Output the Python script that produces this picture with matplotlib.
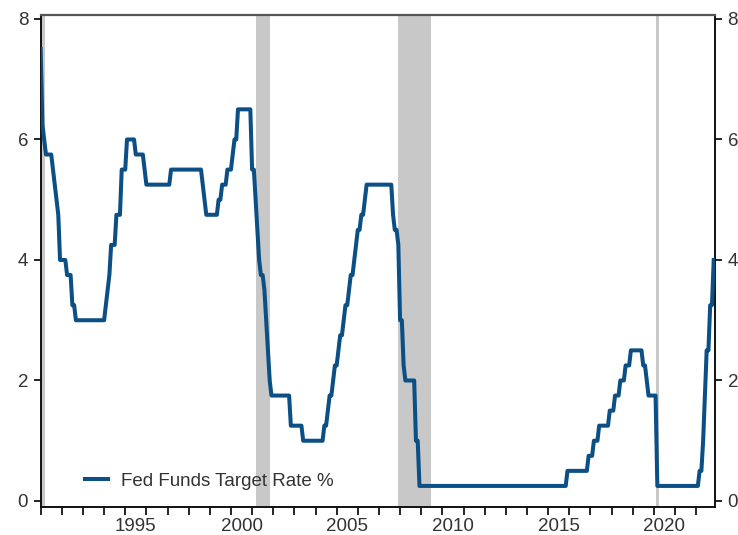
import numpy as np
import matplotlib
matplotlib.use("Agg")
import matplotlib.pyplot as plt
from matplotlib.ticker import FixedLocator, NullFormatter, FixedFormatter

plt.rcParams['font.family'] = ['Liberation Sans', 'DejaVu Sans']

# Monthly Fed Funds target rate (upper bound), Jan..Dec per year
rates = {
    1991: [7.5, 6.25, 6.0, 5.75, 5.75, 5.75, 5.75, 5.5, 5.25, 5.0, 4.75, 4.0],
    1992: [4.0, 4.0, 4.0, 3.75, 3.75, 3.75, 3.25, 3.25, 3.0, 3.0, 3.0, 3.0],
    1993: [3.0, 3.0, 3.0, 3.0, 3.0, 3.0, 3.0, 3.0, 3.0, 3.0, 3.0, 3.0],
    1994: [3.0, 3.25, 3.5, 3.75, 4.25, 4.25, 4.25, 4.75, 4.75, 4.75, 5.5, 5.5],
    1995: [5.5, 6.0, 6.0, 6.0, 6.0, 6.0, 5.75, 5.75, 5.75, 5.75, 5.75, 5.5],
    1996: [5.25, 5.25, 5.25, 5.25, 5.25, 5.25, 5.25, 5.25, 5.25, 5.25, 5.25, 5.25],
    1997: [5.25, 5.25, 5.5, 5.5, 5.5, 5.5, 5.5, 5.5, 5.5, 5.5, 5.5, 5.5],
    1998: [5.5, 5.5, 5.5, 5.5, 5.5, 5.5, 5.5, 5.5, 5.25, 5.0, 4.75, 4.75],
    1999: [4.75, 4.75, 4.75, 4.75, 4.75, 5.0, 5.0, 5.25, 5.25, 5.25, 5.5, 5.5],
    2000: [5.5, 5.75, 6.0, 6.0, 6.5, 6.5, 6.5, 6.5, 6.5, 6.5, 6.5, 6.5],
    2001: [5.5, 5.5, 5.0, 4.5, 4.0, 3.75, 3.75, 3.5, 3.0, 2.5, 2.0, 1.75],
    2002: [1.75, 1.75, 1.75, 1.75, 1.75, 1.75, 1.75, 1.75, 1.75, 1.75, 1.25, 1.25],
    2003: [1.25, 1.25, 1.25, 1.25, 1.25, 1.0, 1.0, 1.0, 1.0, 1.0, 1.0, 1.0],
    2004: [1.0, 1.0, 1.0, 1.0, 1.0, 1.25, 1.25, 1.5, 1.75, 1.75, 2.0, 2.25],
    2005: [2.25, 2.5, 2.75, 2.75, 3.0, 3.25, 3.25, 3.5, 3.75, 3.75, 4.0, 4.25],
    2006: [4.5, 4.5, 4.75, 4.75, 5.0, 5.25, 5.25, 5.25, 5.25, 5.25, 5.25, 5.25],
    2007: [5.25, 5.25, 5.25, 5.25, 5.25, 5.25, 5.25, 5.25, 4.75, 4.5, 4.5, 4.25],
    2008: [3.0, 3.0, 2.25, 2.0, 2.0, 2.0, 2.0, 2.0, 2.0, 1.0, 1.0, 0.25],
    2009: [0.25] * 12,
    2010: [0.25] * 12,
    2011: [0.25] * 12,
    2012: [0.25] * 12,
    2013: [0.25] * 12,
    2014: [0.25] * 12,
    2015: [0.25, 0.25, 0.25, 0.25, 0.25, 0.25, 0.25, 0.25, 0.25, 0.25, 0.25, 0.5],
    2016: [0.5, 0.5, 0.5, 0.5, 0.5, 0.5, 0.5, 0.5, 0.5, 0.5, 0.5, 0.75],
    2017: [0.75, 0.75, 1.0, 1.0, 1.0, 1.25, 1.25, 1.25, 1.25, 1.25, 1.25, 1.5],
    2018: [1.5, 1.5, 1.75, 1.75, 1.75, 2.0, 2.0, 2.0, 2.25, 2.25, 2.25, 2.5],
    2019: [2.5, 2.5, 2.5, 2.5, 2.5, 2.5, 2.25, 2.25, 2.0, 1.75, 1.75, 1.75],
    2020: [1.75, 1.75, 0.25, 0.25, 0.25, 0.25, 0.25, 0.25, 0.25, 0.25, 0.25, 0.25],
    2021: [0.25] * 12,
    2022: [0.25, 0.25, 0.5, 0.5, 1.0, 1.75, 2.5, 2.5, 3.25, 3.25, 4.0],
}

# Recession periods (decimal years)
rec_start = [1990.5, 2001.17, 2007.92, 2020.09]
rec_end = [1991.2, 2001.87, 2009.46, 2020.24]

year_ticks = list(range(1991, 2023))
label_years = [1995, 2000, 2005, 2010, 2015, 2020]
y_ticks = [0, 2, 4, 6, 8]

x = []
y = []
for yr, vals in rates.items():
    for m, v in enumerate(vals):
        x.append(yr + m / 12.0)
        y.append(v)

fig = plt.figure(figsize=(7.38, 5.35), dpi=100)
ax = fig.add_axes([0.0551, 0.0523, 0.9139, 0.9197])

for s, e in zip(rec_start, rec_end):
    ax.axvspan(s, e, color='#c8c8c8', lw=0, zorder=1)

ax.plot(x, y, color='#0b4f85', lw=2.9, solid_joinstyle='round', zorder=3,
        label='Fed Funds Target Rate %')

ax.set_xlim(1991.0, 2022.9)
ax.set_ylim(-0.1, 8.066)

tc = '#333333'
ax.set_yticks(y_ticks)
ax.set_yticklabels([str(v) for v in y_ticks])
ax.tick_params(axis='y', which='major', direction='out', length=5, width=1.2,
               labelsize=13.5, labelcolor=tc, pad=4, right=True, labelright=True)

ax.xaxis.set_major_locator(FixedLocator(year_ticks))
ax.xaxis.set_major_formatter(NullFormatter())
ax.xaxis.set_minor_locator(FixedLocator([v + 0.5 for v in label_years]))
ax.xaxis.set_minor_formatter(FixedFormatter([str(v) for v in label_years]))
ax.tick_params(axis='x', which='major', direction='out', length=6, width=1.2)
ax.tick_params(axis='x', which='minor', length=0, labelsize=13.5, labelcolor=tc, pad=8)

for side in ['left', 'bottom', 'right']:
    ax.spines[side].set_color('#111111')
    ax.spines[side].set_linewidth(1.4)
ax.spines['top'].set_color('#555555')
ax.spines['top'].set_linewidth(1.6)

leg = ax.legend(loc='lower left', bbox_to_anchor=(0.066, 0.035), frameon=False,
                fontsize=13.5, handlelength=1.2, handletextpad=0.7,
                borderaxespad=0, borderpad=0)
for t in leg.get_texts():
    t.set_color(tc)

fig.savefig('out.png', dpi=100)
